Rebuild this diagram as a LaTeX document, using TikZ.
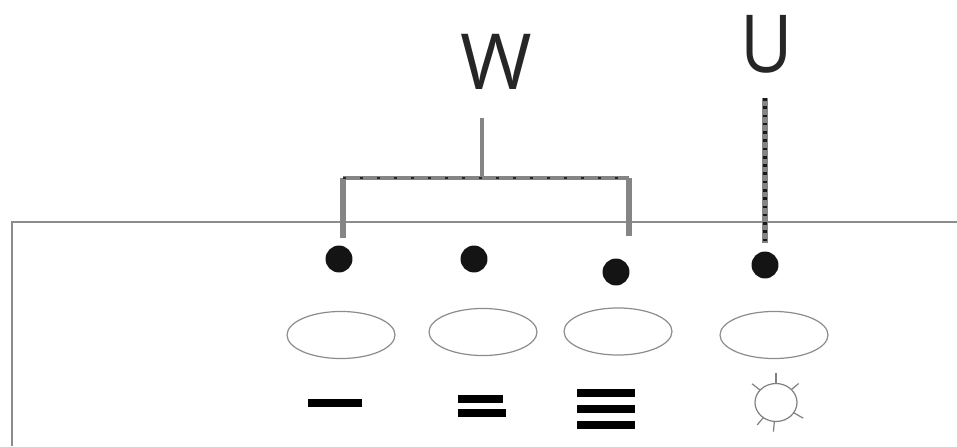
\documentclass[tikz,border=0pt]{standalone}
\usepackage{fontspec}
\setmainfont{Open Sans}
\usetikzlibrary{shapes.geometric}
\definecolor{wirecol}{gray}{0.52}
\tikzset{x=0.02635cm,y=-0.02635cm,
  dotn/.style={circle,fill=black!92,draw=none,minimum width=0.71cm,inner sep=0pt,outer sep=0pt},
  ell/.style={ellipse,draw=black!45,line width=0.9pt,minimum width=2.846cm,minimum height=1.24cm,inner sep=0pt,outer sep=0pt},
  wire/.style={draw=wirecol,line width=3.4pt},
  tickline/.style={draw=black!85,line width=2pt,dash pattern=on 2pt off 10.74pt},
  ulinedots/.style={draw=black!90,line width=2.6pt,dash pattern=on 2pt off 4.2pt},
  barfill/.style={fill=black,draw=none},
  sun/.style={ellipse,draw=black!50,line width=0.9pt,minimum width=1.107cm,minimum height=1.0cm,inner sep=0pt,outer sep=0pt},
  ray/.style={draw=black!50,line width=0.9pt},
  frameline/.style={draw=black!45,line width=1.1pt},
  lbl/.style={text=black!85,inner sep=0pt,outer sep=0pt}}
\begin{document}
\begin{tikzpicture}
\useasboundingbox (0,0) rectangle (957,446);
\fill[white] (0,0) rectangle (957,446);
\draw[frameline] (957,222) -- (12,222) -- (12,446);
% labels
\node[lbl,font=\fontsize{58}{60}\selectfont] (W) at (496.5,61.5) {W};
\node[lbl,font=\fontsize{60}{62}\selectfont,xscale=0.9] (U) at (767,44.5) {U};
% dots
\node[dotn] (d1) at (339,259) {};
\node[dotn] (d2) at (474,259) {};
\node[dotn] (d3) at (616,272) {};
\node[dotn] (d4) at (765,265) {};
% ellipses
\node[ell] (e1) at (341,335) {};
\node[ell] (e2) at (483,332) {};
\node[ell] (e3) at (618,331.5) {};
\node[ell] (e4) at (774,335) {};
% wire points
\coordinate (wtop) at (482,118);
\coordinate (wmid) at (482,178);
\coordinate (wl) at (343,178);
\coordinate (wr) at (629,178);
\coordinate (wlb) at (343,238);
\coordinate (wrb) at (629,236);
\coordinate (utop) at (765,98);
\coordinate (ubot) at (765,243);
\draw[wire,line width=3.6pt] (wtop) -- (wmid);
\draw[wire] (wl) -- (wr);
\draw[wire,line width=4.2pt] (wl) -- (wlb);
\draw[wire,line width=4.2pt] (wr) -- (wrb);
\draw[tickline] (wl) -- (wr);
\draw[wire,line width=3.9pt] (utop) -- (ubot);
\draw[ulinedots] (utop) -- (ubot);
% bars
\fill[barfill] (308,399) rectangle (362,407);
\fill[barfill] (457.5,395) rectangle (503,402.5);
\fill[barfill] (457.5,409) rectangle (506,417);
\fill[barfill] (577,389) rectangle (635,397);
\fill[barfill] (577,405) rectangle (635,413);
\fill[barfill] (577,421) rectangle (635,429);
% sun
\node[sun] (s) at (776,402.5) {};
\foreach \a/\l in {90/0.29,40/0.25,-30/0.29,-95/0.27,-130/0.25,142/0.27}
  \draw[ray] (s.\a) -- ++(\a:\l cm);
\end{tikzpicture}
\end{document}
